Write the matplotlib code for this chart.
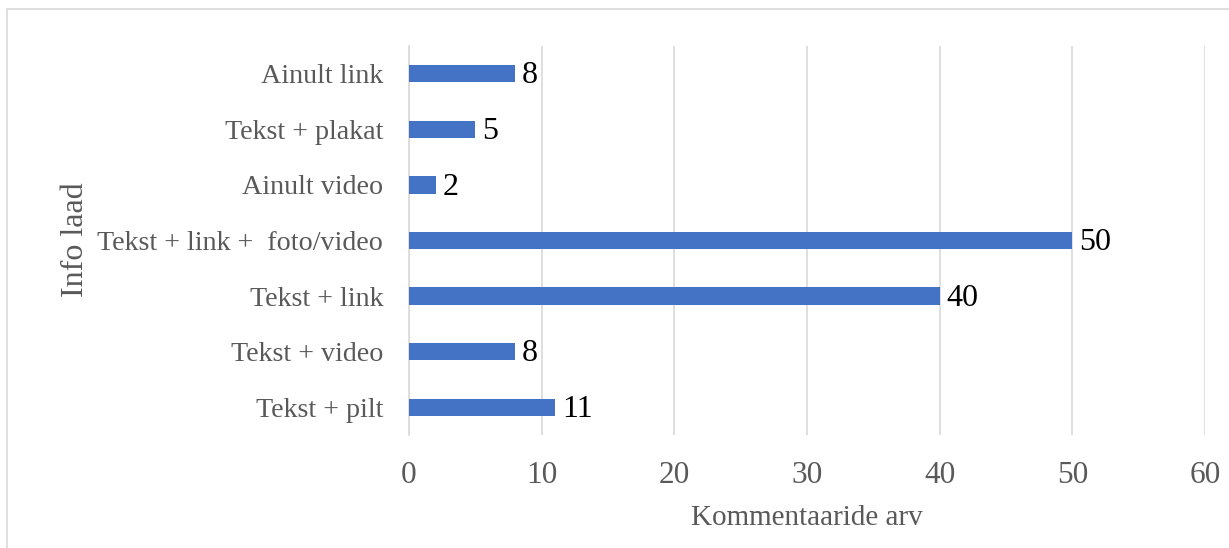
import matplotlib
matplotlib.use("Agg")
import matplotlib.pyplot as plt
from matplotlib.patches import Rectangle

categories = ["Tekst + pilt", "Tekst + video", "Tekst + link", "Tekst + link +  foto/video",
              "Ainult video", "Tekst + plakat", "Ainult link"]
values = [11, 8, 40, 50, 2, 5, 8]
xticks = [0, 10, 20, 30, 40, 50, 60]

plt.rcParams['font.family'] = ['Liberation Serif', 'DejaVu Serif']

W, H = 1229, 548
fig = plt.figure(figsize=(W/100, H/100), dpi=100)
ax = fig.add_axes([409/W, 1-435/H, (1205-409)/W, (435-46)/H])

y = list(range(len(categories)))
ax.barh(y, values, height=0.31, color="#4472C4", zorder=3)
for yi, v in zip(y, values):
    ax.annotate(str(v), (v, yi), xytext=(5, -1.5), textcoords="offset points",
                ha="left", va="center", fontsize=23, color="black", zorder=4)

ax.set_xlim(0, 60)
ax.set_ylim(-0.5, len(categories)-0.5)
ax.set_xticks(xticks)
ax.set_xticklabels([str(t) for t in xticks], fontsize=22.5, color="#595959")
ax.set_yticks(y)
ax.set_yticklabels(categories, fontsize=20.2, color="#595959")
ax.tick_params(axis="both", length=0)
ax.tick_params(axis="x", pad=19)
ax.tick_params(axis="y", pad=18.7)
ax.grid(axis="x", color="#d9d9d9", linewidth=1.2, zorder=0)
for s in ["top", "right", "bottom"]:
    ax.spines[s].set_visible(False)
ax.spines["left"].set_color("#d9d9d9")
ax.spines["left"].set_linewidth(1.2)

ax.set_xlabel("Kommentaaride arv", fontsize=21, color="#595959", labelpad=10.5)
ax.set_ylabel("Info laad", fontsize=23, color="#595959")
ax.yaxis.set_label_coords(90/W, 1-240/H, transform=fig.transFigure)

fig.patches.append(Rectangle((7/W, -0.05), 1.1, 1.05-9/H, transform=fig.transFigure,
                             fill=False, edgecolor="#d9d9d9", linewidth=1.2))

fig.savefig("out.png", dpi=100, facecolor="white")
